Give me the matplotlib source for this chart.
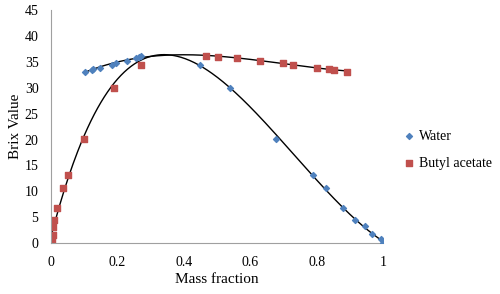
import numpy as np
import matplotlib
matplotlib.use('Agg')
import matplotlib.pyplot as plt

plt.rcParams['font.family'] = ['Liberation Serif', 'DejaVu Serif']

# Water: mass fraction vs Brix value
waterX = [0.102, 0.123, 0.127, 0.148, 0.183, 0.195, 0.228, 0.256, 0.266, 0.270,
          0.449, 0.539, 0.678, 0.788, 0.828, 0.880, 0.917, 0.947, 0.967, 0.993, 1.0]
waterY = [33.1, 33.5, 33.7, 33.9, 34.4, 34.7, 35.2, 35.7, 36.0, 36.2,
          34.4, 30.0, 20.1, 13.1, 10.7, 6.8, 4.4, 3.3, 1.7, 0.8, 0.1]

# Butyl acetate
butylX = [0.0, 0.002, 0.007, 0.005, 0.010, 0.017, 0.035, 0.050, 0.100, 0.190, 0.270,
          0.467, 0.504, 0.559, 0.630, 0.698, 0.728, 0.800, 0.838, 0.852, 0.893]
butylY = [0.0, 0.6, 1.5, 3.2, 4.4, 6.8, 10.6, 13.1, 20.1, 30.0, 34.3,
          36.1, 35.9, 35.8, 35.2, 34.7, 34.4, 33.9, 33.6, 33.5, 33.1]

# point where both trend curves meet
plaitX = [0.36]
plaitY = [36.4]

cWater = '#4F81BD'
cButyl = '#C0504D'


def splitBranches():
    # lower curve: butyl-rich side + water-rich side ; upper: the other ones
    wx, wy = np.array(waterX), np.array(waterY)
    bx, by = np.array(butylX), np.array(butylY)
    lowX = np.concatenate([bx[bx < 0.3], plaitX, wx[wx > 0.4]])
    lowY = np.concatenate([by[bx < 0.3], plaitY, wy[wx > 0.4]])
    upX = np.concatenate([wx[wx < 0.3], plaitX, bx[bx > 0.4]])
    upY = np.concatenate([wy[wx < 0.3], plaitY, by[bx > 0.4]])
    return (lowX, lowY), (upX, upY)


def main():
    fig = plt.figure(figsize=(5, 2.94), dpi=100)
    ax = fig.add_axes([0.102, 0.173, 0.664, 0.793])

    (lowX, lowY), (upX, upY) = splitBranches()
    wLow = np.where(lowX == plaitX[0], 4.0, 1.0)
    pLow = np.polyfit(lowX, lowY, 5, w=wLow)
    pUp = np.polyfit(upX, upY, 3)
    xs = np.linspace(lowX.min(), lowX.max(), 300)
    ax.plot(xs, np.polyval(pLow, xs), color='black', lw=1.0, zorder=1)
    xs = np.linspace(upX.min(), upX.max(), 300)
    ax.plot(xs, np.polyval(pUp, xs), color='black', lw=1.0, zorder=1)

    ax.scatter(waterX, waterY, marker='D', s=9, color=cWater, label='Water', zorder=3)
    ax.scatter(butylX, butylY, marker='s', s=16, color=cButyl, label='Butyl acetate', zorder=2)

    ax.set_xlim(0, 1)
    ax.set_ylim(0, 45)
    ax.set_xticks([0, 0.2, 0.4, 0.6, 0.8, 1])
    ax.set_xticklabels(['0', '0.2', '0.4', '0.6', '0.8', '1'])
    ax.set_yticks(range(0, 50, 5))
    ax.tick_params(length=0, labelsize=10, pad=9)
    ax.tick_params(axis='y', pad=9)
    for s in ['top', 'right']:
        ax.spines[s].set_visible(False)
    for s in ['left', 'bottom']:
        ax.spines[s].set_color('#A0A0A0')
    ax.set_xlabel('Mass fraction', fontsize=11, labelpad=3)
    ax.set_ylabel('Brix Value', fontsize=11, labelpad=2)

    ax.legend(loc='center left', bbox_to_anchor=(1.02, 0.4), frameon=False,
              fontsize=10, handletextpad=0.2, handlelength=1.0, labelspacing=1.0)

    plt.savefig('out.png', dpi=100)


if __name__ == "__main__":
    main()
